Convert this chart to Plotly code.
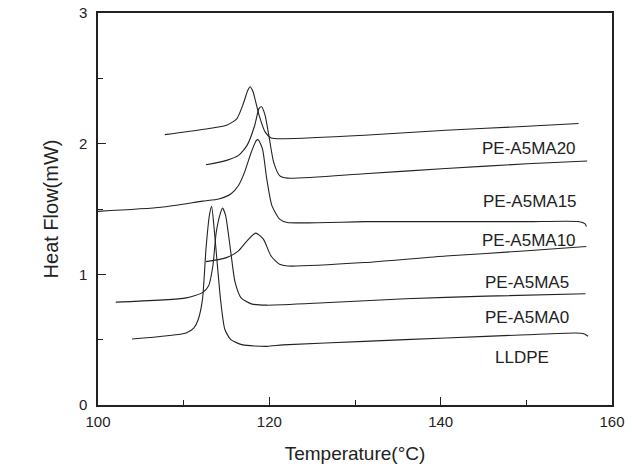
import plotly.graph_objects as go

# LLDPE
lldpe_t = [103.98, 110.28, 111.2, 111.7, 112.2, 112.6, 113.0, 113.26, 113.6, 114.3, 114.8, 115.5, 116.9, 119.7, 121.6, 131.1, 140.6, 150.1, 155.7, 156.7, 157.2]
lldpe_h = [0.505, 0.551, 0.59, 0.654, 0.81, 1.19, 1.45, 1.52, 1.32, 0.81, 0.58, 0.50, 0.46, 0.449, 0.46, 0.487, 0.513, 0.538, 0.551, 0.546, 0.526]

# PE-A5MA0
ma0_t = [102.08, 110.3, 112.2, 112.9, 113.4, 113.8, 114.3, 114.54, 114.9, 115.5, 116.0, 116.7, 117.9, 119.7, 126.4, 135.9, 145.3, 156.9]
ma0_h = [0.787, 0.82, 0.86, 0.91, 1.06, 1.32, 1.47, 1.508, 1.45, 1.17, 0.94, 0.82, 0.774, 0.764, 0.782, 0.813, 0.833, 0.851]

# PE-A5MA5
ma5_t = [112.6, 115.0, 116.4, 117.4, 118.4, 119.3, 120.2, 121.2, 122.1, 131.1, 140.6, 150.1, 157.0]
ma5_h = [1.097, 1.128, 1.18, 1.256, 1.315, 1.27, 1.14, 1.077, 1.064, 1.09, 1.14, 1.18, 1.213]

# PE-A5MA10
ma10_t = [100.0, 107.4, 112.2, 114.1, 115.5, 116.4, 117.1, 117.9, 118.5, 118.7, 119.2, 119.7, 120.3, 121.2, 122.1, 131.1, 140.6, 150.1, 156.2, 156.9, 157.0]
ma10_h = [1.482, 1.513, 1.56, 1.577, 1.615, 1.68, 1.78, 1.936, 2.026, 2.03, 1.96, 1.73, 1.526, 1.423, 1.397, 1.403, 1.403, 1.403, 1.403, 1.385, 1.365]

# PE-A5MA15
ma15_t = [112.6, 115.0, 116.4, 117.4, 118.3, 118.8, 119.1, 119.5, 120.0, 120.5, 121.2, 122.1, 131.1, 140.6, 150.1, 157.1]
ma15_h = [1.838, 1.872, 1.91, 1.987, 2.141, 2.27, 2.282, 2.218, 2.04, 1.859, 1.756, 1.736, 1.77, 1.81, 1.846, 1.867]

# PE-A5MA20
ma20_t = [107.8, 112.2, 115.0, 116.2, 116.9, 117.5, 117.76, 118.1, 118.8, 119.5, 120.2, 121.6, 131.1, 140.6, 150.1, 156.1]
ma20_h = [2.069, 2.108, 2.141, 2.19, 2.295, 2.41, 2.436, 2.397, 2.218, 2.09, 2.044, 2.038, 2.064, 2.103, 2.133, 2.154]

series = [
    ("LLDPE", lldpe_t, lldpe_h),
    ("PE-A5MA0", ma0_t, ma0_h),
    ("PE-A5MA5", ma5_t, ma5_h),
    ("PE-A5MA10", ma10_t, ma10_h),
    ("PE-A5MA15", ma15_t, ma15_h),
    ("PE-A5MA20", ma20_t, ma20_h),
]

label_text = ["PE-A5MA20", "PE-A5MA15", "PE-A5MA10", "PE-A5MA5", "PE-A5MA0", "LLDPE"]
label_x = [150.3, 150.4, 150.3, 150.1, 150.1, 149.5]
label_y = [1.96, 1.56, 1.26, 0.935, 0.67, 0.365]

FONT = "Liberation Sans, Arial"
INK = "#222222"

fig = go.Figure()
for name, t, h in series:
    fig.add_trace(go.Scatter(x=t, y=h, mode="lines", name=name,
                             line=dict(color=INK, width=1.1, shape="spline", smoothing=0.6),
                             showlegend=False))

for txt, lx, ly in zip(label_text, label_x, label_y):
    fig.add_annotation(x=lx, y=ly, text=txt, showarrow=False,
                       font=dict(family=FONT, size=17, color=INK))

axis_common = dict(showline=True, linecolor=INK, linewidth=1.5, mirror=True,
                   ticks="inside", ticklen=8, tickwidth=1.2, tickcolor=INK,
                   showgrid=False, zeroline=False, automargin=False,
                   tickfont=dict(family=FONT, size=15, color=INK))

fig.update_xaxes(range=[100, 160], dtick=20, tick0=100, ticklabelstandoff=2,
                 minor=dict(ticks="inside", ticklen=5, dtick=10, tickcolor=INK, tickwidth=1),
                 title=dict(text="Temperature(°C)", font=dict(family=FONT, size=19, color=INK), standoff=18),
                 **axis_common)
fig.update_yaxes(range=[0, 3], dtick=1, tick0=0, ticklabelstandoff=6,
                 minor=dict(ticks="inside", ticklen=5, dtick=0.5, tickcolor=INK, tickwidth=1),
                 title=dict(text="Heat Flow(mW)", font=dict(family=FONT, size=20, color=INK), standoff=15),
                 **axis_common)

fig.update_layout(width=632, height=466, margin=dict(l=98, r=20, t=13, b=61),
                  plot_bgcolor="white", paper_bgcolor="white")

fig.write_html("out.html", config={"displayModeBar": False},
               post_script="document.body.style.margin='0px';")
